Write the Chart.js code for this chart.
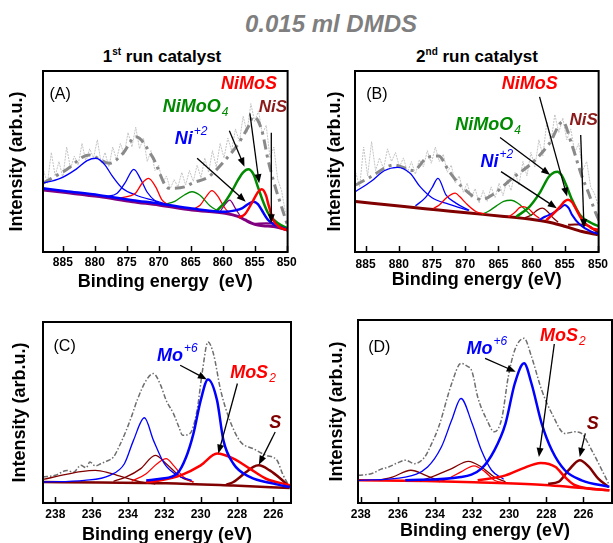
<!DOCTYPE html>
<html>
<head>
<meta charset="utf-8">
<script src="https://cdn.jsdelivr.net/npm/chart.js@4.4.0/dist/chart.umd.min.js"></script>
<style>
body { margin:0; background:#fff; width:613px; height:543px; position:relative; overflow:hidden;
       font-family:'Liberation Sans', Arial, sans-serif; }
.box { position:absolute; }
#title { position:absolute; left:0; width:662px; top:10px; text-align:center; font-size:24px;
         font-weight:bold; font-style:italic; color:#7f7f7f; }
.sub { position:absolute; top:46px; width:300px; text-align:center; font-size:17px; font-weight:bold; }
.sub sup { font-size:10px; }
</style>
</head>
<body>
<div id="title">0.015 ml DMDS</div>
<div class="sub" style="left:12px">1<sup>st</sup> run catalyst</div>
<div class="sub" style="left:327px">2<sup>nd</sup> run catalyst</div>
<div class="box" style="left:0;top:62px;width:300px;height:238px"><canvas id="cA"></canvas></div>
<div class="box" style="left:305px;top:62px;width:308px;height:238px"><canvas id="cB"></canvas></div>
<div class="box" style="left:0;top:305px;width:300px;height:250px"><canvas id="cC"></canvas></div>
<div class="box" style="left:305px;top:305px;width:308px;height:250px"><canvas id="cD"></canvas></div>
<script>
const FONT = "'Liberation Sans', Arial, sans-serif";

// ---- tick labels
const niTicks = [885, 880, 875, 870, 865, 860, 855, 850];
const moTicks = [238, 236, 234, 232, 230, 228, 226];

// ---- panel A (Ni 2p, 1st run)
const A_raw_x = [888.0,887.4,886.8,886.2,885.6,885.0,884.4,883.8,883.2,882.6,882.0,881.4,880.8,880.2,879.6,879.0,878.4,877.8,877.2,876.6,876.0,875.4,874.8,874.2,873.6,873.0,872.4,871.8,871.2,870.6,870.0,869.4,868.8,868.2,867.6,867.0,866.4,865.8,865.2,864.6,864.0,863.4,862.8,862.2,861.6,861.0,860.4,859.8,859.2,858.6,858.0,857.4,856.8,856.2,855.6,855.0,854.4,853.8,853.2,852.6,852.0,851.4,850.8,850.2];
const A_raw_y = [45,38,55,42,50,41,58,46,53,48,60,50,57,52,62,49,55,47,58,51,60,54,66,58,69,57,63,50,56,45,48,38,42,35,40,36,44,37,45,39,48,41,52,44,56,47,60,52,63,56,68,61,75,66,82,72,78,65,70,52,58,40,34,22];
const A_env_x = [888.1,884.5,880.9,877.7,875.6,873.6,871.0,868.4,865.8,864.8,862.2,859.6,857.5,856.0,855.2,853.9,852.9,851.8,850.8,849.8];
const A_env_y = [38,45.3,53.6,49,54.5,63.7,52.7,35.2,36.1,38,41.6,50.8,60.2,69.2,74.8,67.4,50.8,36.1,25,14];
const A_base_x = [888.2,884.5,879.3,874.1,870.0,864.8,859.6,857.5,856.5,855.5,854.5,853.0,851.8,849.9];
const A_base_y = [34.3,32.8,30.6,27.8,26.0,23.2,21.4,19.5,17.7,16,14.9,14.3,14.0,12.2];
const A_sat1_x = [888.2,885.5,882.9,881.2,879.8,878.5,877.2,875.7,873.6,870.5,868.0];
const A_sat1_y = [38,40.5,45.8,50.5,51.8,48.5,41.6,35.2,31.5,28.2,25.5];
const A_sat2_x = [878.3,876.5,875.3,873.9,872.8,871.8,870.5,869.5];
const A_sat2_y = [30.5,32.5,38,45.7,40,33,28,26];
const A_red1_x = [876.7,874.5,873.6,872.6,871.6,870.5,869.5,868.5];
const A_red1_y = [29.5,31,32.6,38,40.7,36.1,28.8,26];
const A_grn1_x = [869.0,867.5,866.0,864.8,863.5,862.0,860.5];
const A_grn1_y = [26.3,28.0,31.5,33.3,31.2,25.5,22.2];
const A_red2_x = [864.5,863.5,862.5,861.7,860.8,859.8,859.0];
const A_red2_y = [23.8,26,31,33.9,31,25,21.5];
const A_pur1_x = [860.5,859.8,858.9,858.0,857.2];
const A_pur1_y = [21.8,25.5,28.7,24,19.5];
const A_nimoo_x = [861.0,859.6,858.6,857.6,856.8,856.0,855.2,854.5,853.7,852.9,851.4,849.8];
const A_nimoo_y = [22.5,27.8,33.3,39.8,44,45.7,43,36,28,21.5,16,13];
const A_ni2_x = [888.2,884.5,879.3,874.1,870.0,864.8,859.6,858.0,857.0,856.0,855.2,854.5,853.9,852.9,851.8,849.9];
const A_ni2_y = [35.2,33.6,31.4,28.6,26.8,24.0,22.2,23.0,24.1,26.5,27.8,26.5,23.2,17.7,14.9,12.4];
const A_nimos_x = [857.5,856.5,855.2,854.5,853.9,853.2,852.9,852.1,851.2,849.9];
const A_nimos_y = [19,21,28.7,33,34.6,31,26.9,17.7,14,12];
const A_nis_x = [855.0,854.3,853.2,852.3,851.6,850.8,849.9];
const A_nis_y = [15.6,15.8,15.9,15.8,15.2,13.5,12.2];

// ---- panel B (Ni 2p, 2nd run)
const B_raw_x = [886.5,885.9,885.3,884.7,884.1,883.5,882.9,882.3,881.7,881.1,880.5,879.9,879.3,878.7,878.1,877.5,876.9,876.3,875.7,875.1,874.5,873.9,873.3,872.7,872.1,871.5,870.9,870.3,869.7,869.1,868.5,867.9,867.3,866.7,866.1,865.5,864.9,864.3,863.7,863.1,862.5,861.9,861.3,860.7,860.1,859.5,858.9,858.3,857.7,857.1,856.5,855.9,855.3,854.7,854.1,853.5,852.9,852.3,851.7,851.1,850.5,850.0];
const B_raw_y = [44,36,58,42,61,45,52,46,57,50,55,47,52,44,50,43,51,47,56,49,58,50,54,44,48,38,42,33,38,30,35,27,34,28,36,30,38,31,40,34,44,37,50,42,55,47,62,53,72,60,76,66,74,62,68,55,60,45,50,36,32,26];
const B_env_x = [886.5,884.2,880.7,877.8,875.8,874.0,872.5,870.5,867.5,865.7,863.0,860.0,857.3,855.3,854.0,852.4,851.4,850.5,849.8];
const B_env_y = [37,41.6,48.1,45,52,53,45,36,29,32,40.5,49,60,72,60,41.6,32.5,23,17];
const B_base_x = [886.5,879.2,874.0,869.4,864.5,859.6,857.0,854.9,852.4,850.0];
const B_base_y = [27.9,25.1,23.2,21.5,19.8,17.8,16.2,14.1,11.3,9.5];
const B_sat1_x = [886.5,884.2,882.2,880.2,878.3,876.8,875.0,872.5,869.5];
const B_sat1_y = [33.4,38.9,44.9,46.8,43.5,36.1,30,26.5,23];
const B_sat2_x = [877.5,876.0,875.0,874.1,872.9,871.4,869.4];
const B_sat2_y = [25.5,30,35.5,40.7,31.6,27,23];
const B_red1_x = [874.8,873.9,872.9,872.0,871.5,870.8,869.9,868.4,867.0];
const B_red1_y = [24,26,29.7,32,32.5,30.5,27,22.4,21];
const B_grn1_x = [867.5,866.5,865.3,864.2,863.1,862.0,861.0,860.0];
const B_grn1_y = [20.8,22.5,25.5,28,28.6,26.8,23.5,20];
const B_red2_x = [863.5,862.5,861.8,861.3,860.5,859.5,858.8];
const B_red2_y = [19.3,22,24.5,25.1,24,20.5,18.5];
const B_brn1_x = [861.0,860.0,859.2,858.4,857.5,856.8,856.0];
const B_brn1_y = [19,20.5,23,24.2,22,19,16.5];
const B_nis_x = [854.5,853.5,852.8,852.0,851.2,850.5,849.9];
const B_nis_y = [15,15.2,15.2,15,14,12,10.5];
const B_nimoo_x = [862.3,860.3,858.8,857.4,856.6,856.1,855.5,854.9,853.9,852.7,851.0,849.8];
const B_nimoo_y = [19.5,25.1,32.5,41.6,44,44.4,42.5,38,28.8,20.5,16,14.1];
const B_nimos_x = [857.8,856.9,855.7,855.0,854.5,853.9,853.5,852.4,851.0,849.8];
const B_nimos_y = [17.5,20.5,25.1,28,28.8,27.5,25.1,17.8,13.2,12.3];
const B_ni2_x = [858.8,857.9,857.0,856.4,855.6,855.0,854.4,853.9,852.7,851.0,849.9];
const B_ni2_y = [17.8,19.6,21,22.4,24.5,26,24.2,20.5,15,11.3,10];

// ---- panel C (Mo 3d, 1st run)
const C_env_x = [238.68,238.0,237.36,237.0,236.6,236.3,236.1,235.8,235.5,235.2,234.8,234.5,234.1,233.8,233.5,233.0,232.6,232.2,231.9,231.5,231.2,231.0,230.6,230.2,229.9,229.6,229.3,228.9,228.4,227.8,227.1,226.4,225.8,225.5,225.1];
const C_env_y = [14.4,15.3,18,17,20.8,19.5,22.7,20.5,21.7,23,25.4,31,40.1,48,56.7,67.8,71.5,65,56.7,49.4,42,37.4,38.3,51.2,73.3,89,82.5,62.2,45.7,33.7,30,26.3,23.6,16.2,8.8];
const C_base_x = [238.68,235.5,231.9,228.2,225.1];
const C_base_y = [11.6,11.3,10.9,9.6,8.3];
const C_mo6a_x = [238.68,236.4,235.0,234.2,233.7,233.1,232.6,232.0,231.3,230.5];
const C_mo6a_y = [11.6,12.5,15.3,21.7,34.6,47.1,34.6,21.7,15.3,12.5];
const C_mo6b_x = [233.0,232.2,231.3,230.8,230.4,230.0,229.6,229.1,228.75,228.2,227.3,226.0,225.1];
const C_mo6b_y = [12.5,13.4,16.2,25.4,38.3,56.7,68.3,56.7,34.6,21.7,14.4,10.7,8.8];
const C_mos2b_x = [233.0,232.2,231.1,230.0,229.1,228.2,227.3,226.4,225.1];
const C_mos2b_y = [11.5,12.5,15.3,20.8,27.3,24.5,19,13.4,9.8];
const C_mos2a_x = [233.8,233.0,232.4,231.9,231.5,230.95,230.4];
const C_mos2a_y = [12,16.2,21.7,24.5,20.8,14.4,11.5];
const C_brn1_x = [234.8,234.1,233.3,232.5,231.9,231.1,230.4];
const C_brn1_y = [12,14.4,19,26.3,21.7,14.4,11.5];
const C_brn2_x = [238.68,237.4,236.6,235.8,235.0,234.6,233.3,232.5];
const C_brn2_y = [13.0,15.8,17.3,18,16.5,15.3,11.6,10.5];
const C_s_x = [228.6,228.2,227.5,227.1,226.8,226.2,225.6,225.1];
const C_s_y = [10,11.6,17.1,20,20.8,18,13.4,8.8];

// ---- panel D (Mo 3d, 2nd run)
const D_env_x = [238.14,237.4,236.9,236.5,236.0,235.6,235.1,234.55,234.2,233.8,233.1,232.6,232.3,232.0,231.7,231.2,230.8,230.4,230.05,229.7,229.2,228.8,228.25,227.7,227.0,226.45,226.1,225.55,225.0,224.6];
const D_env_y = [15.1,16.1,18.5,19.7,22,23.4,21.5,25.2,32,41.6,65.3,76.3,75,71.7,58,45.3,38.9,46.2,69,83.6,90,80,61.7,48.9,38,38.9,38,28.8,17.9,9.7];
const D_base_x = [238.14,234.5,231.9,228.3,224.6];
const D_base_y = [12.4,12,11.3,10,6.9];
const D_mo6a_x = [238.14,235.6,234.4,233.65,233.1,232.6,232.0,231.5,230.95,230.3];
const D_mo6a_y = [12.4,14.2,19.7,30.7,45.3,57.1,43.4,28.8,17.9,13];
const D_mo6b_x = [235.6,232.6,231.5,230.8,230.2,229.7,229.2,228.8,228.25,227.7,227.0,226.1,224.6];
const D_mo6b_y = [12.4,14.2,18.8,28.8,43.4,65.3,76.3,65.3,43.4,28.8,17.9,12.4,8.8];
const D_mos2b_x = [231.7,230.2,229.3,228.3,227.5,227.0,226.45,224.6];
const D_mos2b_y = [12.4,15.1,18.8,21.9,19.7,14.2,9.7,6.9];
const D_mos2a_x = [233.8,233.3,232.6,231.9,231.3,230.8,230.2];
const D_mos2a_y = [11.5,13.3,17,20.3,17,12.4,11];
const D_brn1_x = [234.8,234.2,233.1,232.2,231.5,230.8,230.2];
const D_brn1_y = [12,14.2,18.8,22.8,19.7,14.2,11.5];
const D_brn2_x = [237.0,236.3,235.3,234.5,233.8];
const D_brn2_y = [12.6,14.2,17.9,15.1,12.2];
const D_s_x = [227.9,227.35,226.8,226.2,225.7,225.2,224.65];
const D_s_y = [10.5,11.5,17.9,23.4,19.7,13.3,8.8];

const RED = '#ff0000', BLUE = '#0000ff', GREEN = '#008a00', PURPLE = '#800080', BROWN = '#800000', NIS = '#8b1a1a';

function curve(xs, ys, color, width, dash) {
  return {
    data: xs.map((x, i) => ({ x: x, y: ys[i] })),
    borderColor: color, borderWidth: width, borderDash: dash || [],
    pointRadius: 0, fill: false, tension: 0.4, cubicInterpolationMode: 'monotone'
  };
}
// noisy raw spectrum: straight segments, dotted
function raw(xs, ys) {
  const d = curve(xs, ys, '#c4c4c4', 1, [2, 1]);
  d.tension = 0;
  d.cubicInterpolationMode = 'default';
  return d;
}
const envDash = [10, 5, 3, 5];
const moDash = [5, 2, 1.5, 2];

// draws frame, inward ticks, labels and arrows
const deco = {
  id: 'deco',
  afterDraw(chart, args, opts) {
    const { ctx, chartArea: a } = chart;
    const sx = chart.scales.x, sy = chart.scales.y;
    ctx.save();
    ctx.strokeStyle = '#000';
    ctx.lineWidth = 1.5;
    sx.ticks.forEach(t => {
      const px = Math.round(sx.getPixelForValue(t.value)) + 0.5;
      ctx.beginPath(); ctx.moveTo(px, a.bottom); ctx.lineTo(px, a.bottom - 6); ctx.stroke();
    });
    ctx.lineWidth = 2;
    ctx.strokeRect(a.left, a.top, a.right - a.left, a.bottom - a.top);

    (opts.arrows || []).forEach(r => {
      const x1 = sx.getPixelForValue(r[0]), y1 = sy.getPixelForValue(r[1]);
      const x2 = sx.getPixelForValue(r[2]), y2 = sy.getPixelForValue(r[3]);
      const ang = Math.atan2(y2 - y1, x2 - x1);
      ctx.strokeStyle = '#000'; ctx.fillStyle = '#000'; ctx.lineWidth = 1.3;
      ctx.beginPath(); ctx.moveTo(x1, y1);
      ctx.lineTo(x2 - 7 * Math.cos(ang), y2 - 7 * Math.sin(ang)); ctx.stroke();
      ctx.beginPath(); ctx.moveTo(x2, y2);
      ctx.lineTo(x2 - 9 * Math.cos(ang) + 3.5 * Math.sin(ang), y2 - 9 * Math.sin(ang) - 3.5 * Math.cos(ang));
      ctx.lineTo(x2 - 9 * Math.cos(ang) - 3.5 * Math.sin(ang), y2 - 9 * Math.sin(ang) + 3.5 * Math.cos(ang));
      ctx.closePath(); ctx.fill();
    });

    (opts.labels || []).forEach(L => {
      const px = sx.getPixelForValue(L.x);
      const base = sy.getPixelForValue(L.y) + 0.36 * L.size;
      ctx.fillStyle = L.color;
      ctx.textAlign = 'left'; ctx.textBaseline = 'alphabetic';
      ctx.font = (L.plain ? '' : 'italic bold ') + L.size + 'px ' + FONT;
      ctx.fillText(L.text, px, base);
      const w = ctx.measureText(L.text).width;
      if (L.sup) {
        ctx.font = (L.plain ? '' : 'italic ') + '12px ' + FONT;
        ctx.fillText(L.sup, px + w + 1, base - 9);
      }
      if (L.sub) {
        ctx.font = (L.plain ? '' : 'italic ') + '12px ' + FONT;
        ctx.fillText(L.sub, px + w + 1, base + 4);
      }
    });
    ctx.restore();
  }
};

function makeChart(id, p) {
  new Chart(document.getElementById(id), {
    type: 'line',
    data: { datasets: p.datasets },
    plugins: [deco],
    options: {
      responsive: true, maintainAspectRatio: false, animation: false, devicePixelRatio: 1,
      layout: { padding: p.pad, autoPadding: false },
      plugins: { legend: { display: false }, tooltip: { enabled: false },
                 deco: { labels: p.labels, arrows: p.arrows } },
      scales: {
        x: {
          type: 'linear', reverse: true, min: p.min, max: p.max,
          afterBuildTicks: s => { s.ticks = p.ticks.map(v => ({ value: v })); },
          afterFit: s => { s.height = p.xH; },
          grid: { display: false, drawTicks: false }, border: { display: false },
          ticks: { color: '#000', padding: p.tickPad, maxRotation: 0, autoSkip: false,
                   font: { family: FONT, size: 12, weight: 'bold' } },
          title: { display: true, text: p.xTitle, color: '#000', padding: { top: 0, bottom: p.xTitlePad },
                   font: { family: FONT, size: 18, weight: 'bold' } }
        },
        y: {
          min: 0, max: 100,
          afterFit: s => { s.width = p.yW; },
          grid: { display: false, drawTicks: false }, border: { display: false },
          ticks: { display: false },
          title: { display: true, text: 'Intensity (arb.u.)', color: '#000', padding: { top: p.yTitlePad, bottom: 0 },
                   font: { family: FONT, size: 18, weight: 'bold' } }
        }
      }
    }
  });
}

makeChart('cA', {
  min: 849.85, max: 888.1, ticks: niTicks, yW: 43, xH: 48,
  pad: { left: 0, top: 9, right: 10, bottom: 0 }, tickPad: 3.3, xTitlePad: 7.2, yTitlePad: 6.7,
  xTitle: 'Binding energy  (eV)',
  datasets: [
    curve(A_nimos_x, A_nimos_y, RED, 2.5),
    curve(A_ni2_x, A_ni2_y, BLUE, 2.5),
    curve(A_nimoo_x, A_nimoo_y, GREEN, 2.5),
    curve(A_nis_x, A_nis_y, PURPLE, 2),
    curve(A_red1_x, A_red1_y, RED, 1.3),
    curve(A_red2_x, A_red2_y, RED, 1.3),
    curve(A_grn1_x, A_grn1_y, GREEN, 1.3),
    curve(A_pur1_x, A_pur1_y, PURPLE, 1.3),
    curve(A_sat2_x, A_sat2_y, BLUE, 1.3),
    curve(A_sat1_x, A_sat1_y, BLUE, 1.3),
    curve(A_base_x, A_base_y, PURPLE, 3),
    curve(A_env_x, A_env_y, '#8a8a8a', 3, envDash),
    raw(A_raw_x, A_raw_y)
  ],
  labels: [
    { text: '(A)', x: 887.1, y: 87.8, size: 16, color: '#000', plain: true },
    { text: 'NiMoS', x: 860.25, y: 93.4, size: 18, color: RED },
    { text: 'NiS', x: 854.35, y: 80.7, size: 17, color: NIS },
    { text: 'NiMoO', sub: '4', x: 869.36, y: 80.8, size: 18, color: GREEN },
    { text: 'Ni', sup: '+2', x: 867.5, y: 63.5, size: 18, color: BLUE }
  ],
  arrows: [
    [864.0, 51.8, 856.4, 27.8],
    [858.96, 67.0, 856.6, 47.1],
    [855.75, 76.6, 854.3, 38],
    [852.4, 65.9, 852.4, 15.9]
  ]
});

makeChart('cB', {
  min: 849.9, max: 886.6, ticks: niTicks, yW: 50, xH: 48,
  pad: { left: 0, top: 9, right: 9, bottom: 0 }, tickPad: 5, xTitlePad: 9.2, yTitlePad: 19.2,
  xTitle: 'Binding energy (eV)',
  datasets: [
    curve(B_nimos_x, B_nimos_y, RED, 2.5),
    curve(B_ni2_x, B_ni2_y, BLUE, 2),
    curve(B_nimoo_x, B_nimoo_y, GREEN, 2.5),
    curve(B_nis_x, B_nis_y, BROWN, 2),
    curve(B_red1_x, B_red1_y, RED, 1.3),
    curve(B_red2_x, B_red2_y, RED, 1.3),
    curve(B_grn1_x, B_grn1_y, GREEN, 1.3),
    curve(B_brn1_x, B_brn1_y, BROWN, 1.3),
    curve(B_sat2_x, B_sat2_y, BLUE, 1.3),
    curve(B_sat1_x, B_sat1_y, BLUE, 1.3),
    curve(B_base_x, B_base_y, BROWN, 3),
    curve(B_env_x, B_env_y, '#8a8a8a', 3, envDash),
    raw(B_raw_x, B_raw_y)
  ],
  labels: [
    { text: '(B)', x: 884.9, y: 87.6, size: 16, color: '#000', plain: true },
    { text: 'NiMoS', x: 864.5, y: 93.5, size: 18, color: RED },
    { text: 'NiS', x: 854.3, y: 73.4, size: 17, color: NIS },
    { text: 'NiMoO', sub: '4', x: 871.5, y: 71, size: 18, color: GREEN },
    { text: 'Ni', sup: '+2', x: 867.7, y: 50.8, size: 18, color: BLUE }
  ],
  arrows: [
    [858.8, 85.7, 854.65, 30.6],
    [864.75, 63.3, 857.2, 42.6],
    [864.6, 44.4, 856.2, 24.2],
    [852.6, 64.6, 852.1, 13.2]
  ]
});

makeChart('cC', {
  min: 225.03, max: 238.68, ticks: moTicks, yW: 43, xH: 52,
  pad: { left: 0, top: 17, right: 9, bottom: 0 }, tickPad: 4, xTitlePad: 9.2, yTitlePad: 9,
  xTitle: 'Binding energy (eV)',
  datasets: [
    curve(C_mo6b_x, C_mo6b_y, BLUE, 2.5),
    curve(C_mos2b_x, C_mos2b_y, RED, 2.5),
    curve(C_s_x, C_s_y, BROWN, 2.5),
    curve(C_mo6a_x, C_mo6a_y, BLUE, 1.3),
    curve(C_mos2a_x, C_mos2a_y, RED, 1.3),
    curve(C_brn1_x, C_brn1_y, BROWN, 1.3),
    curve(C_brn2_x, C_brn2_y, BROWN, 1.3),
    curve(C_base_x, C_base_y, BROWN, 2.5),
    curve(C_env_x, C_env_y, '#6e6e6e', 1.5, moDash)
  ],
  labels: [
    { text: '(C)', x: 238.1, y: 87.1, size: 16, color: '#000', plain: true },
    { text: 'Mo', sup: '+6', x: 232.41, y: 82.2, size: 18, color: BLUE },
    { text: 'MoS', sub: '2', x: 228.38, y: 72.8, size: 18, color: RED },
    { text: 'S', x: 226.23, y: 44.8, size: 18, color: BROWN }
  ],
  arrows: [
    [231.13, 76.1, 229.66, 68.3],
    [227.98, 66, 229.03, 27.3],
    [225.9, 39.2, 226.8, 21.2]
  ]
});

makeChart('cD', {
  min: 224.46, max: 238.15, ticks: moTicks, yW: 53, xH: 52,
  pad: { left: 0, top: 15, right: 1, bottom: 0 }, tickPad: 4, xTitlePad: 13.2, yTitlePad: 21.7,
  xTitle: 'Binding energy (eV)',
  datasets: [
    curve(D_mo6b_x, D_mo6b_y, BLUE, 2.5),
    curve(D_mos2b_x, D_mos2b_y, RED, 2.5),
    curve(D_s_x, D_s_y, BROWN, 2.5),
    curve(D_mo6a_x, D_mo6a_y, BLUE, 1.3),
    curve(D_mos2a_x, D_mos2a_y, RED, 1.3),
    curve(D_brn1_x, D_brn1_y, BROWN, 1.3),
    curve(D_brn2_x, D_brn2_y, BROWN, 1.3),
    curve(D_base_x, D_base_y, RED, 2.5),
    curve(D_env_x, D_env_y, '#6e6e6e', 1.5, moDash)
  ],
  labels: [
    { text: '(D)', x: 237.6, y: 85.8, size: 16, color: '#000', plain: true },
    { text: 'Mo', sup: '+6', x: 232.3, y: 84.7, size: 18, color: BLUE },
    { text: 'MoS', sub: '2', x: 228.34, y: 92.3, size: 18, color: RED },
    { text: 'S', x: 225.82, y: 44.2, size: 18, color: BROWN }
  ],
  arrows: [
    [231.3, 79, 229.65, 71.7],
    [227.57, 86.9, 228.4, 25.2],
    [225.9, 38, 226.2, 25.2]
  ]
});
</script>
</body>
</html>
